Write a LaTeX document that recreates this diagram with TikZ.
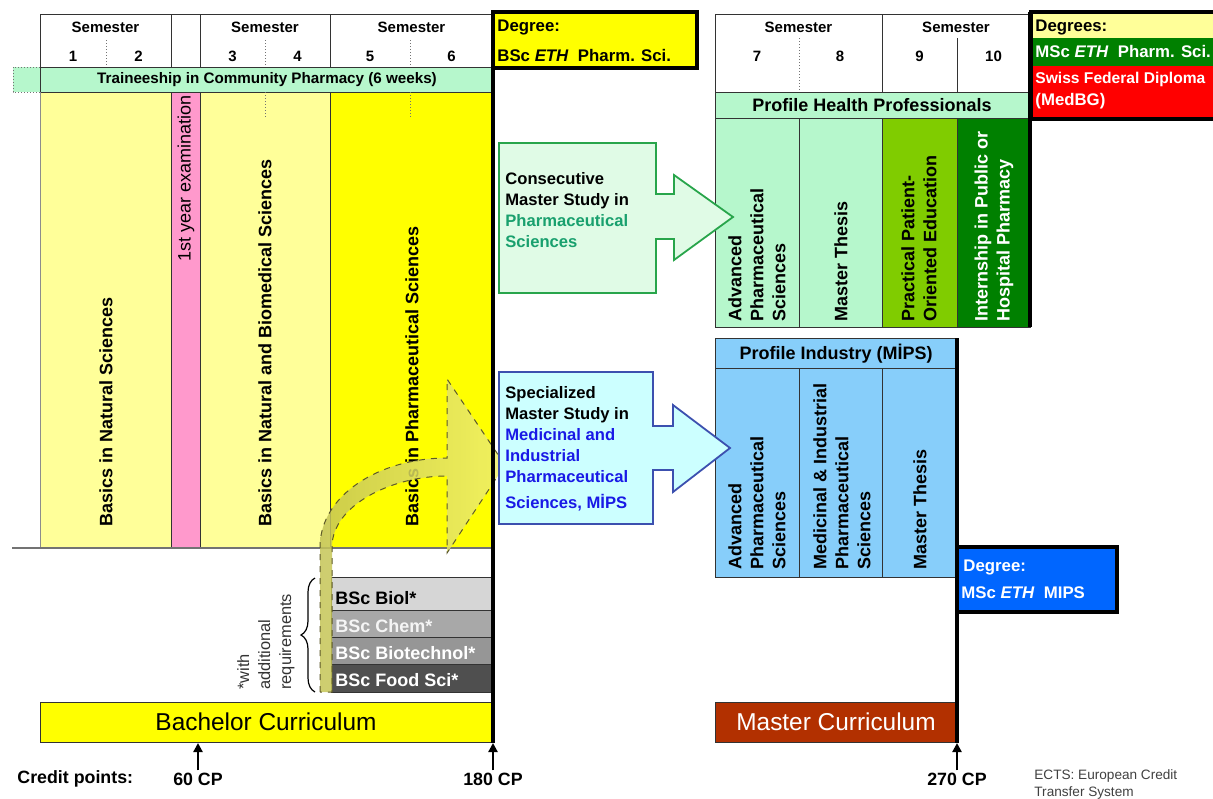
\documentclass[tikz,border=0pt]{standalone}
\usepackage{fontspec}
\setmainfont{Liberation Sans}
\usetikzlibrary{arrows.meta,decorations.pathreplacing}
\definecolor{PaleYellow}{RGB}{255,255,153}
\definecolor{PureYellow}{RGB}{255,255,0}
\definecolor{ExamPink}{RGB}{255,153,204}
\definecolor{MintGreen}{RGB}{182,247,204}
\definecolor{ConsFill}{RGB}{224,251,230}
\definecolor{ConsLine}{RGB}{40,165,75}
\definecolor{ConsText}{RGB}{25,160,110}
\definecolor{SpecFill}{RGB}{204,255,255}
\definecolor{SpecLine}{RGB}{60,80,175}
\definecolor{SpecText}{RGB}{25,25,230}
\definecolor{SkyBlue}{RGB}{135,206,250}
\definecolor{PatientGreen}{RGB}{128,204,0}
\definecolor{InternGreen}{RGB}{0,128,0}
\definecolor{DegreeBlue}{RGB}{0,102,255}
\definecolor{MasterRed}{RGB}{178,48,0}
\definecolor{DiplomaRed}{RGB}{255,0,0}
\definecolor{ArrowOlive}{RGB}{196,196,86}
\definecolor{ArrowLight}{RGB}{240,240,110}
\newcommand{\fsz}[2]{\fontsize{#1}{#2}\selectfont}
\tikzset{
  gridline/.style={draw=black!80, line width=0.5pt},
  semdiv/.style={draw=black!55, densely dotted, line width=0.5pt},
  heavyline/.style={draw=black, line width=1.6pt},
  hdrlbl/.style={font=\fsz{7.5}{9}\bfseries, inner sep=0pt},
  barlbl/.style={font=\fsz{7.6}{9}\bfseries, inner sep=0pt},
  proflbl/.style={font=\fsz{9}{11}\bfseries, inner sep=0pt},
  collbl/.style={font=\fsz{9}{11}\bfseries, rotate=90, anchor=west,
    align=left, inner sep=0pt},
  deglbl/.style={font=\fsz{8.4}{10}\bfseries, anchor=west, inner sep=0pt},
  studylbl/.style={font=\fsz{8.3}{10.5}\bfseries, anchor=north west,
    align=left, inner sep=0pt},
  bsclbl/.style={font=\fsz{9}{11}\bfseries, anchor=west, inner sep=0pt},
  curlbl/.style={font=\fsz{12.2}{14}, inner sep=0pt},
  cplbl/.style={font=\fsz{8.9}{11}\bfseries, inner sep=0pt},
  cparrow/.style={-{Triangle[width=4.5pt,length=4.5pt]}, line width=1.1pt},
  studyarrow/.style={line width=0.9pt, line join=miter}
}

\begin{document}
\begin{tikzpicture}[x=0.5pt, y=-0.5pt]
\useasboundingbox (0,0) rectangle (1213,798);

% bachelor semesters
\filldraw[gridline, fill=white] (40,14) rectangle (493,67);
\foreach \x in {171,200,330} \draw[gridline] (\x,14) -- (\x,67);
\foreach \x in {106,265,410} \draw[semdiv] (\x,40) -- (\x,67);
\node[hdrlbl] (sem12) at (105.5,27) {Semester};
\node[hdrlbl] (sem34) at (265,27) {Semester};
\node[hdrlbl] (sem56) at (411.5,27) {Semester};
\foreach \x/\n in {73/1,138.5/2,232.5/3,297.5/4,370/5,451.5/6}
  \node[hdrlbl] (num\n) at (\x,56) {\n};

\fill[MintGreen] (13,67) rectangle (493,92);
\draw[gridline] (40,67) rectangle (493,92);
\draw[semdiv] (40,67) -- (13,67) -- (13,92) -- (40,92);
\node[barlbl] (trainee) at (267,80) {Traineeship in Community Pharmacy (6 weeks)};

\filldraw[gridline, fill=PaleYellow] (40,92) rectangle (171,548);
\filldraw[gridline, fill=ExamPink] (171,92) rectangle (200,548);
\filldraw[gridline, fill=PaleYellow] (200,92) rectangle (330,548);
\filldraw[gridline, fill=PureYellow] (330,92) rectangle (493,548);
\draw[gridline, draw=black!45] (40,92) -- (40,548);
\foreach \x in {265,410} \draw[semdiv] (\x,92) -- (\x,118);
\draw[draw=black!55, line width=0.8pt] (12,548) -- (493,548);
\node[collbl] (natsci) at (106,527) {Basics in Natural Sciences};
\node[collbl, anchor=east, font=\fsz{9}{11}] (exam) at (186,95) {1st year examination};
\node[collbl] (biomed) at (265,527) {Basics in Natural and Biomedical Sciences};
\node[collbl] (pharmsci) at (412,527) {Basics in Pharmaceutical Sciences};

% other bachelors
\filldraw[gridline, fill=black!16] (331,577) rectangle (493,610);
\filldraw[gridline, fill=black!34] (331,610) rectangle (493,637);
\filldraw[gridline, fill=black!41] (331,637) rectangle (493,664);
\filldraw[gridline, fill=black!69] (331,664) rectangle (493,692);
\node[bsclbl] (biol) at (335,598) {BSc Biol*};
\node[bsclbl, text=black!4] (chem) at (335,626) {BSc Chem*};
\node[bsclbl, text=white] (biotech) at (335,653) {BSc Biotechnol*};
\node[bsclbl, text=white] (food) at (335,680) {BSc Food Sci*};
\draw[decorate, decoration={brace, amplitude=7pt}, line width=0.6pt]
  (315,692) -- (315,578);
\node[collbl, font=\fsz{8.2}{10.5}, text=black!80] (req) at (266,690)
  {*with\\additional\\requirements};

\path[draw=black!45!olive, dashed, line width=0.5pt, left color=ArrowOlive,
  right color=ArrowLight, fill opacity=0.85]
  (320,692) -- (320,547) .. controls (320,495) and (380,458) .. (447,458)
  -- (447,379) -- (505,465) -- (447,553) -- (447,476)
  .. controls (392,476) and (332,505) .. (332,547) -- (332,692) -- cycle;

% bachelor degree
\filldraw[heavyline, fill=PureYellow] (493,12) rectangle (697,68);
\node[deglbl] (bscdeg) at (497,27) {Degree:};
\node[deglbl] (bscname) at (497,55) {BSc \textit{ETH}\ \ Pharm. Sci.};

% master semesters
\filldraw[gridline, fill=white] (715,14) rectangle (1030,92);
\draw[gridline] (882,14) -- (882,92);
\draw[gridline] (957,38) -- (957,92);
\draw[semdiv] (799,38) -- (799,92);
\node[hdrlbl] (sem78) at (798.5,27) {Semester};
\node[hdrlbl] (sem910) at (956,27) {Semester};
\foreach \x/\n in {757/7,840/8,919.5/9,993.5/10}
  \node[hdrlbl] (num\n) at (\x,56) {\n};

% health professionals
\filldraw[gridline, fill=MintGreen] (715,92) rectangle (1030,118);
\node[proflbl] (health) at (872,105) {Profile Health Professionals};
\filldraw[gridline, fill=MintGreen] (715,118) rectangle (799,327);
\filldraw[gridline, fill=MintGreen] (799,118) rectangle (882,327);
\filldraw[gridline, fill=PatientGreen] (882,118) rectangle (957,327);
\filldraw[gridline, fill=InternGreen] (957,118) rectangle (1030,327);
\node[collbl] (hadv) at (757,322) {Advanced\\Pharmaceutical\\Sciences};
\node[collbl] (hthesis) at (841,322) {Master Thesis};
\node[collbl] (hpract) at (919,322) {Practical Patient-\\Oriented Education};
\node[collbl, text=white] (hintern) at (994,322) {Internship in Public or\\Hospital Pharmacy};
\draw[heavyline] (1030,12) -- (1030,327);

% master degrees
\fill[PaleYellow] (1031,13) rectangle (1230,38);
\fill[InternGreen] (1031,38) rectangle (1230,66);
\fill[DiplomaRed] (1031,66) rectangle (1230,118);
\draw[heavyline] (1230,12) -- (1031,12) -- (1031,119) -- (1230,119);
\node[deglbl] (msdeg) at (1035,27) {Degrees:};
\node[deglbl, text=white] (msname) at (1035,51) {MSc \textit{ETH}\ \ Pharm. Sci.};
\node[deglbl, text=white, font=\fsz{7.8}{10}\bfseries] (swiss) at (1035,79) {Swiss Federal Diploma};
\node[deglbl, text=white] (medbg) at (1035,101) {(MedBG)};

% industry profile
\filldraw[gridline, fill=SkyBlue] (715,338) rectangle (957,577);
\draw[gridline] (715,368) -- (957,368);
\foreach \x in {799,882} \draw[gridline] (\x,368) -- (\x,577);
\node[proflbl] (industry) at (836,354) {Profile Industry (MİPS)};
\node[collbl] (iadv) at (757,570) {Advanced\\Pharmaceutical\\Sciences};
\node[collbl] (imed) at (842,570) {Medicinal \& Industrial\\Pharmaceutical\\Sciences};
\node[collbl] (ithesis) at (920,570) {Master Thesis};

\filldraw[heavyline, fill=DegreeBlue] (957,547) rectangle (1117,612);
\node[deglbl, text=white] (mipsdeg) at (963,567) {Degree:};
\node[deglbl, text=white] (mipsname) at (961,593) {MSc \textit{ETH}\ \ MIPS};

% study arrows
\filldraw[studyarrow, draw=ConsLine, fill=ConsFill]
  (499,143) -- (656,143) -- (656,194) -- (674,194) -- (674,175) -- (733,217)
  -- (674,260) -- (674,239) -- (656,239) -- (656,293) -- (499,293) -- cycle;
\node[studylbl] (cons) at (505,172)
  {Consecutive\\Master Study in\\\textcolor{ConsText}{Pharmaceutical}\\\textcolor{ConsText}{Sciences}};
\filldraw[studyarrow, draw=SpecLine, fill=SpecFill]
  (499,372) -- (653,372) -- (653,426) -- (673,426) -- (673,405) -- (730,448)
  -- (673,492) -- (673,470) -- (653,470) -- (653,524) -- (499,524) -- cycle;
\node[studylbl] (spec) at (505,386)
  {Specialized\\Master Study in\\\textcolor{SpecText}{Medicinal and}\\\textcolor{SpecText}{Industrial}\\\textcolor{SpecText}{Pharmaceutical}\\[2.5pt]\textcolor{SpecText}{Sciences, MİPS}};

% curricula
\filldraw[gridline, fill=PureYellow] (40,702) rectangle (493,742);
\node[curlbl] (bach) at (266,722) {Bachelor Curriculum};
\filldraw[gridline, fill=MasterRed] (715,702) rectangle (957,742);
\node[curlbl, text=white] (master) at (836,722) {Master Curriculum};
\draw[heavyline] (493,12) -- (493,743);
\draw[heavyline] (957,338) -- (957,743);

% credit points
\coordinate (barbase) at (0,743);
\node[cplbl, anchor=west] (cplabel) at (17,779) {Credit points:};
\node[cplbl] (cp60) at (198,779) {60 CP};
\node[cplbl] (cp180) at (493,779) {180 CP};
\node[cplbl] (cp270) at (957,779) {270 CP};
\foreach \c in {cp60,cp180,cp270}
  \draw[cparrow, shorten <=1pt] (\c.north) -- (\c.north |- barbase);
\node[font=\fsz{6.8}{8.5}, text=black!75, anchor=north west, align=left,
  inner sep=0pt] (ects) at (1034,769) {ECTS: European Credit\\Transfer System};
\end{tikzpicture}
\end{document}
